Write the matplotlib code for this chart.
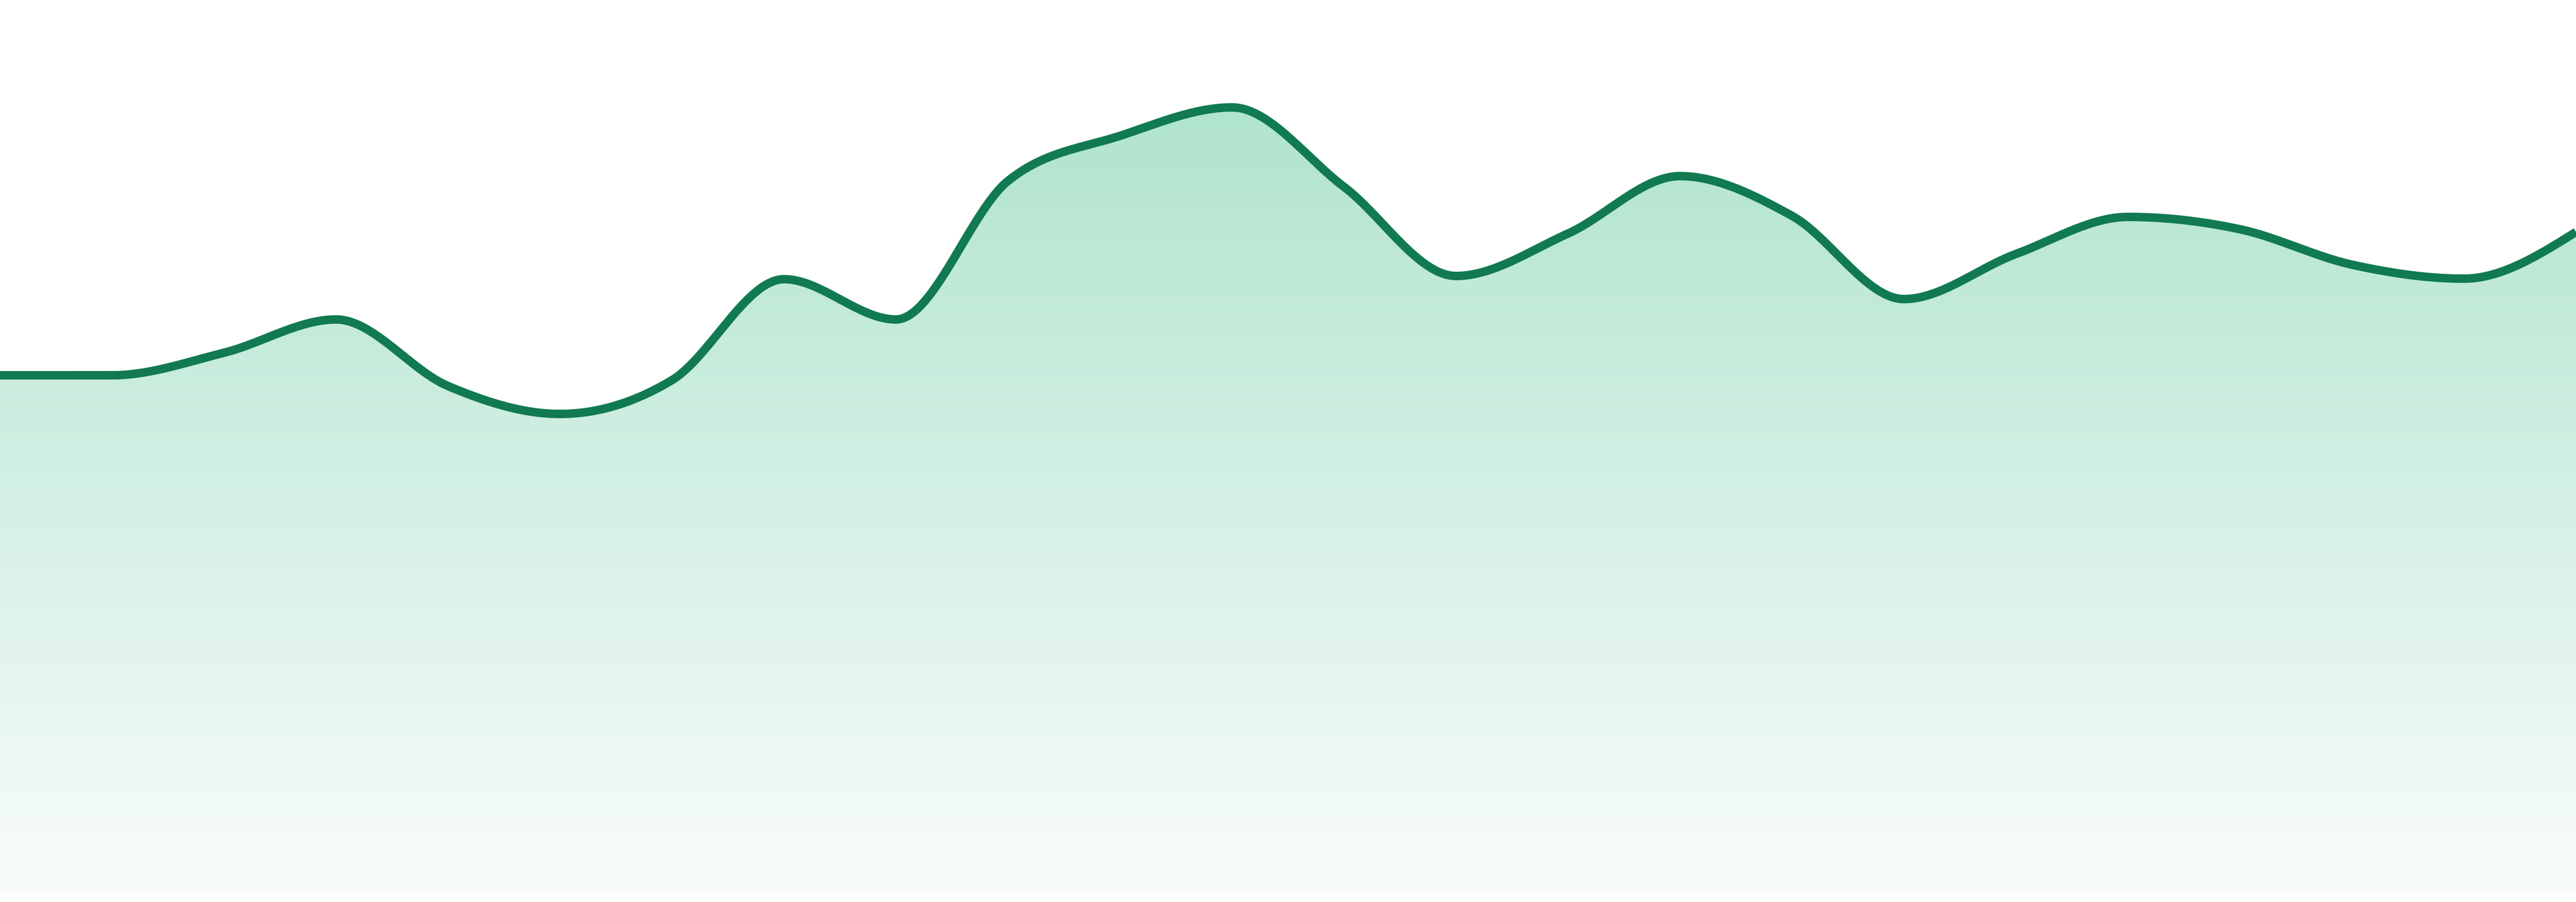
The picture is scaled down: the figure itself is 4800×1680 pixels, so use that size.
import numpy as np
import matplotlib
matplotlib.use("Agg")
from matplotlib import pyplot as plt
from matplotlib.colors import LinearSegmentedColormap

# data points, evenly spaced across the width
idx = list(range(24))
values = [96.7, 96.7, 100.9, 107.1, 94.7, 89.5, 95.8, 114.6, 107.1, 132.9, 141.3, 146.6,
          131.8, 115.2, 123.1, 133.8, 126.4, 110.9, 119.3, 126.2, 123.9, 117.3, 114.7, 123.4]

line_color = "#117a51"
fill_top = "#b0e4ce"
fill_bottom = "#f9fcfb"


def monotone_x(x, y, n=60):
    # same smoothing as d3.curveMonotoneX
    x = np.asarray(x, float)
    y = np.asarray(y, float)
    h = np.diff(x)
    s = np.diff(y) / h
    t = np.zeros(len(x))
    for i in range(1, len(x) - 1):
        p = (s[i - 1] * h[i] + s[i] * h[i - 1]) / (h[i - 1] + h[i])
        t[i] = (np.sign(s[i - 1]) + np.sign(s[i])) * min(abs(s[i - 1]), abs(s[i]), 0.5 * abs(p))
    t[0] = (3 * s[0] - t[1]) / 2
    t[-1] = (3 * s[-1] - t[-2]) / 2
    xs, ys = [], []
    for i in range(len(x) - 1):
        u = np.linspace(0, 1, n, endpoint=(i == len(x) - 2))
        h00 = 2 * u**3 - 3 * u**2 + 1
        h10 = u**3 - 2 * u**2 + u
        h01 = -2 * u**3 + 3 * u**2
        h11 = u**3 - u**2
        xs.append(x[i] + u * h[i])
        ys.append(h00 * y[i] + h10 * h[i] * t[i] + h01 * y[i + 1] + h11 * h[i] * t[i + 1])
    return np.concatenate(xs), np.concatenate(ys)


xs, ys = monotone_x(idx, values)

fig = plt.figure(figsize=(16, 5.6), dpi=300)
ax = fig.add_axes([0, 0, 1, 1])
ax.set_xlim(0, idx[-1])
ax.set_ylim(-1.4, 166.6)
ax.axis("off")

poly = ax.fill_between(xs, 0, ys, color="none", lw=0)
cmap = LinearSegmentedColormap.from_list("fade", [fill_bottom, fill_top])
grad = np.linspace(0, 1, 256).reshape(-1, 1)
img = ax.imshow(grad, cmap=cmap, aspect="auto", origin="lower",
                extent=[0, idx[-1], 0, max(values)], zorder=1)
img.set_clip_path(poly.get_paths()[0], transform=ax.transData)

ax.plot(xs, ys, color=line_color, lw=3.8, zorder=3, solid_capstyle="butt")

fig.savefig("out.png", dpi=300, facecolor="white")
